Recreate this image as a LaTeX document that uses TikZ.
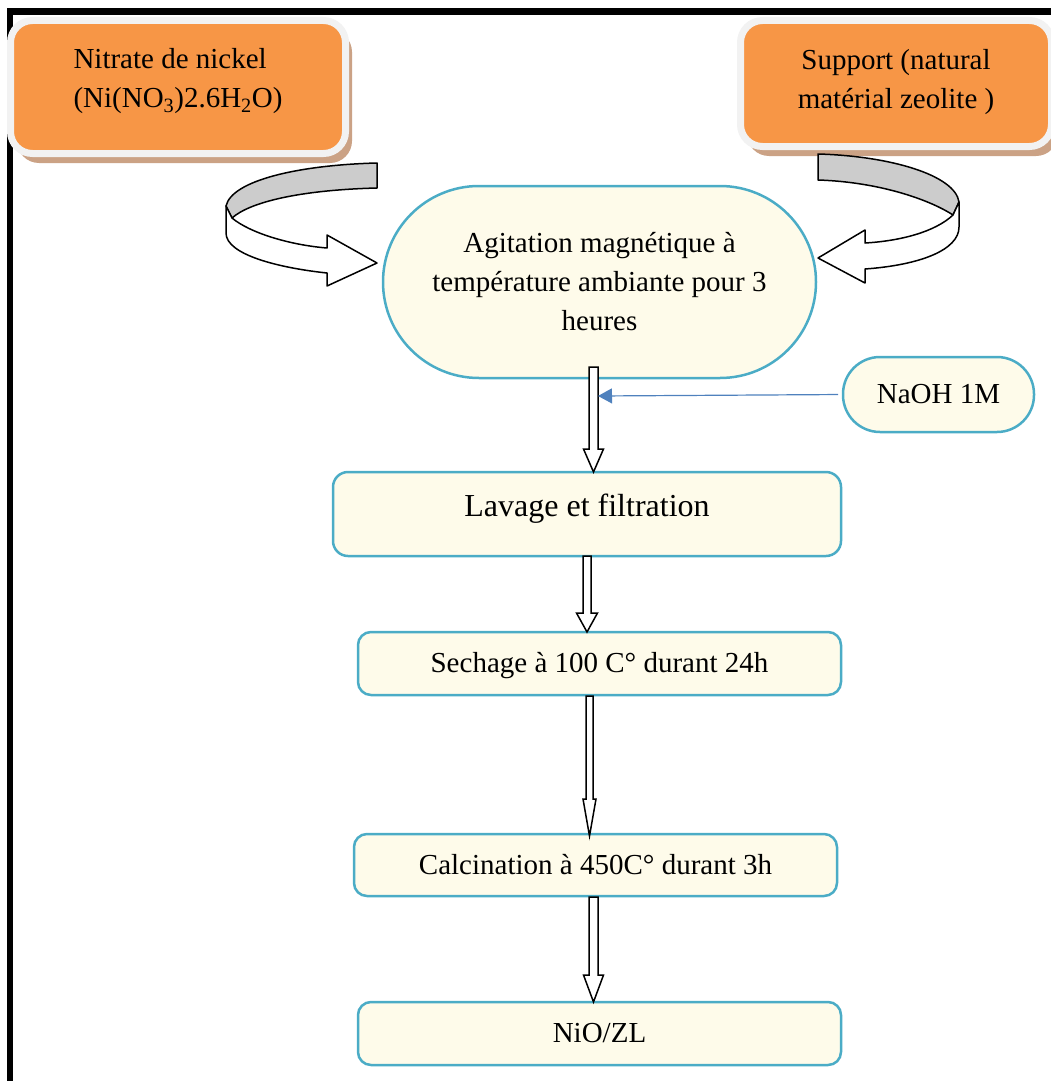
\documentclass[tikz,border=0pt]{standalone}
\usepackage{fontspec}
\setmainfont{Liberation Serif}
\usetikzlibrary{calc,arrows.meta,shadows}
\definecolor{orangeF}{HTML}{F79646}
\definecolor{grayB}{HTML}{F2F2F2}
\definecolor{shadowC}{HTML}{CBA285}
\definecolor{tealB}{HTML}{4BACC6}
\definecolor{creamF}{HTML}{FEFBEA}
\definecolor{blueArr}{HTML}{4F81BD}
\definecolor{bandGray}{HTML}{CCCCCC}
\newcommand{\raiseit}[2]{\raisebox{#1}[\height][\depth]{#2}}
\newcommand{\hollowdown}[5]{%
  \draw[hollow] ($(#1)+(-#3,0)$) -- ($(#2)+(-#3,-#5)$) -- ($(#2)+(-#4,-#5)$) -- (#2)
    -- ($(#2)+(#4,-#5)$) -- ($(#2)+(#3,-#5)$) -- ($(#1)+(#3,0)$) -- cycle;}
\begin{document}
\begin{tikzpicture}[x=1pt,y=-1pt,
  txt/.style={font=\fontsize{29}{39}\selectfont, text=black},
  orangebox/.style={txt, rounded corners=22pt, fill=orangeF, draw=grayB, line width=7pt,
    inner sep=0pt, outer sep=0pt,
    drop shadow={shadow xshift=6.5pt, shadow yshift=-9.5pt, fill=shadowC, opacity=1}},
  stepbox/.style={txt, draw=tealB, fill=creamF, line width=2.5pt, rounded corners=13pt,
    inner sep=0pt, outer sep=0pt, align=center},
  pillbox/.style={stepbox, rounded corners=#1},
  hollow/.style={draw=black, fill=white, line width=1.5pt, line join=miter},
  ribbon/.style={draw=black, line width=1.5pt, line join=round},
  thinarrow/.style={draw=blueArr, line width=1.2pt, -{Triangle[length=14pt,width=15pt]}}
]
\useasboundingbox (0,0) rectangle (1051,1081);
% frame
\draw[line width=6.5pt] (10,1081) -- (10,11.5) -- (1051,11.5);

% source boxes
\node[orangebox, minimum width=335pt, minimum height=133pt] (nitrate) at (178,87)
  {\raiseit{7pt}{\begin{tabular}{@{}l@{}}Nitrate de nickel\\(Ni(NO\textsubscript{3})2.6H\textsubscript{2}O)\end{tabular}}};
\node[orangebox, minimum width=311pt, minimum height=126pt] (support) at (896,83.5)
  {\raiseit{2.5pt}{\begin{tabular}{@{}c@{}}Support (natural\\matérial zeolite )\end{tabular}}};

% left curved arrow
\filldraw[ribbon, fill=bandGray] (377,163) .. controls (300,165) and (232,180) .. (226,206)
  -- (232,218) .. controls (250,202) and (300,190) .. (377,188) -- cycle;
\filldraw[ribbon, fill=white] (232,218) .. controls (250,233) and (290,245) .. (327,248)
  -- (327,235) -- (377,263) -- (327,286) -- (327,273)
  .. controls (280,268) and (226,255) .. (226,233) -- (226,206) -- cycle;

% right curved arrow
\filldraw[ribbon, fill=bandGray] (818,154) .. controls (890,156) and (955,175) .. (959,202)
  -- (953,215) .. controls (930,200) and (880,182) .. (818,180) -- cycle;
\filldraw[ribbon, fill=white] (953,215) .. controls (935,232) and (900,241) .. (865,243)
  -- (865,230) -- (818,258) -- (865,283) -- (865,269)
  .. controls (920,265) and (959,250) .. (959,227) -- (959,202) -- cycle;

% process nodes
\node[pillbox=96pt, minimum width=433pt, minimum height=192pt] (agit) at (599.5,282)
  {Agitation magnétique à\\température ambiante pour 3\\heures};
\node[pillbox=37pt, minimum width=191pt, minimum height=75pt] (naoh) at (938.5,394.5)
  {NaOH 1M};
\node[stepbox, rounded corners=15pt, minimum width=508pt, minimum height=84pt,
  font=\fontsize{32}{40}\selectfont] (lav) at (587,514)
  {\raiseit{5pt}{Lavage et filtration}};
\node[stepbox, minimum width=483pt, minimum height=63pt] (sech) at (599.5,663.5)
  {\raiseit{-2pt}{Sechage à 100 C° durant 24h}};
\node[stepbox, minimum width=483pt, minimum height=62pt] (calc) at (595.5,865)
  {Calcination à 450C° durant 3h};
\node[stepbox, minimum width=483pt, minimum height=63pt] (nio) at (599.5,1033.5)
  {NiO/ZL};

% vertical hollow arrows
\coordinate (a1s) at (593.5,367);
\coordinate (a1e) at (a1s |- lav.north);
\hollowdown{a1s}{a1e}{4.5}{10}{23}
\coordinate (a2s) at (lav.south);
\coordinate (a2e) at (a2s |- sech.north);
\hollowdown{a2s}{a2e}{4}{10.5}{19}
\coordinate (a3s) at (589.5,696);
\coordinate (a3e) at ($(a3s |- calc.north)+(0,2)$);
\hollowdown{a3s}{a3e}{3.5}{6.5}{37}
\coordinate (a4s) at (593.5,897);
\coordinate (a4e) at (a4s |- nio.north);
\hollowdown{a4s}{a4e}{4.5}{10}{27}

% NaOH feed
\coordinate (naohend) at (598,396);
\draw[thinarrow, shorten <=5pt] (naoh.west) -- (naohend);
\end{tikzpicture}
\end{document}
